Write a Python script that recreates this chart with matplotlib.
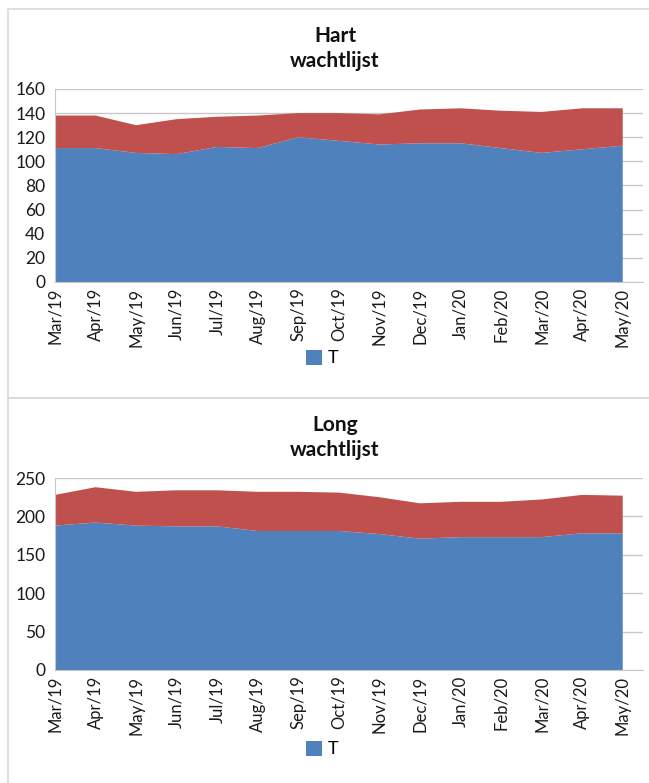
import matplotlib
matplotlib.use("Agg")
import matplotlib.pyplot as plt
from matplotlib.patches import Patch, Rectangle
import numpy as np

plt.rcParams['font.family'] = ['Lato', 'DejaVu Sans']

months = ['Mar/19', 'Apr/19', 'May/19', 'Jun/19', 'Jul/19', 'Aug/19', 'Sep/19',
          'Oct/19', 'Nov/19', 'Dec/19', 'Jan/20', 'Feb/20', 'Mar/20', 'Apr/20', 'May/20']

# Hart wachtlijst
hart_t = [111, 111, 107, 106, 112, 111, 120, 117, 114, 115, 115, 111, 107, 110, 113]
hart_rest = [27, 27, 23, 29, 25, 27, 20, 23, 25, 28, 29, 31, 34, 34, 31]

# Long wachtlijst
long_t = [188, 192, 188, 187, 187, 181, 181, 181, 177, 171, 173, 173, 173, 178, 178]
long_rest = [40, 46, 44, 47, 47, 51, 51, 50, 48, 46, 46, 46, 49, 50, 49]

BLUE = '#4f81bd'
RED = '#c0504d'
GRID = '#c8c8c8'

W, H = 649, 783
fig = plt.figure(figsize=(W / 100, H / 100), dpi=100)


def px_axes(left, top, right, bottom):
    return fig.add_axes([left / W, 1 - bottom / H, (right - left) / W, (bottom - top) / H])


def draw_panel(ax, t, rest, ymax, step, title, title_y, legend_y):
    x = np.arange(len(months))
    ax.stackplot(x, t, rest, colors=[BLUE, RED], linewidth=0)
    ax.set_xlim(0, len(months) - 0.5)
    ax.set_ylim(0, ymax)
    ax.set_yticks(np.arange(0, ymax + 1, step))
    ax.yaxis.grid(True, color=GRID, linewidth=1)
    ax.set_axisbelow(True)
    ax.set_xticks(x)
    ax.set_xticklabels(months, rotation=90, fontsize=12, color='#1a1a1a')
    ax.tick_params(axis='y', labelsize=12.5, labelcolor='#1a1a1a', length=0, pad=7)
    ax.tick_params(axis='x', length=0, pad=4)
    for side in ['top', 'right']:
        ax.spines[side].set_visible(False)
    for side in ['left', 'bottom']:
        ax.spines[side].set_color(GRID)
    fig.text(335 / W, 1 - title_y / H, title, ha='center', va='top',
             fontsize=15, fontweight='bold', linespacing=1.3, color='#111111')
    fig.legend(handles=[Patch(facecolor=BLUE, label='T')], loc='center',
               bbox_to_anchor=(322 / W, 1 - legend_y / H), frameon=False,
               fontsize=13, handlelength=0.9, handleheight=0.9, handletextpad=0.3)


ax1 = px_axes(55, 89, 643, 282)
draw_panel(ax1, hart_t, hart_rest, 160, 20, 'Hart\nwachtlijst', 26, 358)

ax2 = px_axes(55, 478, 643, 670)
draw_panel(ax2, long_t, long_rest, 250, 50, 'Long\nwachtlijst', 415, 749)

# chart area borders
fig.patches.append(Rectangle((8 / W, 1 - 398 / H), 1, 389 / H, transform=fig.transFigure,
                             fill=False, edgecolor='#d9d9d9', linewidth=1.2))
fig.patches.append(Rectangle((8 / W, -0.1), 1, 0.1 + 1 - 398 / H, transform=fig.transFigure,
                             fill=False, edgecolor='#d9d9d9', linewidth=1.2))

fig.savefig('out.png', dpi=100)
